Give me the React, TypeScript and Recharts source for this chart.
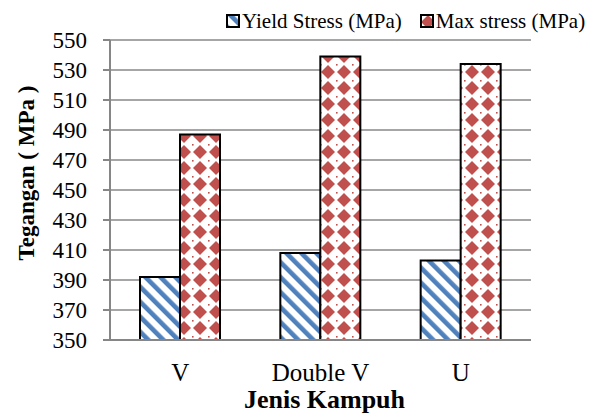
import { BarChart, Bar, XAxis, YAxis, CartesianGrid } from 'recharts';

const categories = ['V', 'Double V', 'U'];
const yieldStress = [392, 408, 403];
const maxStress = [487, 539, 534];
const yTicks = [350, 370, 390, 410, 430, 450, 470, 490, 510, 530, 550];

const data = categories.map((c, i) => ({ name: c, yield: yieldStress[i], max: maxStress[i] }));

const BLUE = '#4f81bd';
const RED = '#c0504d';
const FONT = '"Liberation Serif", "Times New Roman", serif';

function Patterns() {
  return (
    <defs>
      <pattern id="stripes" patternUnits="userSpaceOnUse" width="10.6" height="10.6" patternTransform="rotate(-45)">
        <rect width="10.6" height="10.6" fill="#fff" />
        <rect x="0" y="0" width="4.6" height="10.6" fill={BLUE} />
      </pattern>
      <pattern id="diamonds" patternUnits="userSpaceOnUse" width="16" height="16">
        <rect width="16" height="16" fill="#fff" />
        <path d="M8 1 L15 8 L8 15 L1 8 Z" fill={RED} />
        <rect x="0" y="0" width="1.6" height="1.6" fill={RED} />
      </pattern>
    </defs>
  );
}

function LegendBox() {
  const items = [
    { label: 'Yield Stress (MPa)', fill: 'url(#stripes)' },
    { label: 'Max stress (MPa)', fill: 'url(#diamonds)' },
  ];
  return (
    <div
      style={{
        position: 'absolute',
        left: 226,
        top: 10,
        display: 'flex',
        fontFamily: FONT,
        fontSize: 21,
        color: '#000',
        lineHeight: '22px',
        whiteSpace: 'nowrap',
      }}
    >
      {items.map((it) => (
        <div key={it.label} style={{ display: 'flex', alignItems: 'center', marginRight: 18 }}>
          <svg width={15} height={15} style={{ marginRight: 1 }}>
            <rect x={1} y={1} width={12} height={12} fill={it.fill} stroke="#000" strokeWidth={2} />
          </svg>
          <span>{it.label}</span>
        </div>
      ))}
    </div>
  );
}

export default function App() {
  return (
    <div style={{ position: 'absolute', left: 0, top: 0, width: 598, height: 414, background: '#fff' }}>
      <BarChart
        width={598}
        height={414}
        data={data}
        margin={{ top: 40, right: 67, left: 0, bottom: 0 }}
        barCategoryGap={30}
        barGap={0}
      >
        <Patterns />
        <CartesianGrid horizontal vertical={false} stroke="#a6a6a6" strokeWidth={2} />
        <XAxis
          dataKey="name"
          axisLine={{ stroke: '#868686', strokeWidth: 2 }}
          tickLine={false}
          tickSize={0}
          tickMargin={23}
          tick={{ fill: '#000', fontSize: 25, fontFamily: FONT }}
          height={74}
          label={{
            content: ({ viewBox }: any) => (
              <text
                x={viewBox.x + viewBox.width / 2 + 4}
                y={viewBox.y + 68}
                textAnchor="middle"
                fontFamily={FONT}
                fontWeight="bold"
                fontSize={26}
                fill="#000"
              >
                Jenis Kampuh
              </text>
            ),
          }}
        />
        <XAxis
          xAxisId="top"
          dataKey="name"
          orientation="top"
          height={0}
          tick={false}
          tickLine={false}
          axisLine={{ stroke: '#000', strokeWidth: 2 }}
        />
        <YAxis
          domain={[350, 550]}
          ticks={yTicks}
          interval={0}
          width={110}
          axisLine={{ stroke: '#868686', strokeWidth: 2 }}
          tickLine={{ stroke: '#868686', strokeWidth: 2 }}
          tickSize={7}
          tickMargin={16}
          tick={{ fill: '#000', fontSize: 23, fontFamily: FONT }}
          label={{
            content: ({ viewBox }: any) => {
              const cx = 26;
              const cy = viewBox.y + viewBox.height / 2 - 17;
              return (
                <text
                  x={cx}
                  y={cy}
                  transform={`rotate(-90 ${cx} ${cy})`}
                  textAnchor="middle"
                  dominantBaseline="central"
                  fontFamily={FONT}
                  fontWeight="bold"
                  fontSize={23}
                  fill="#000"
                >
                  Tegangan ( MPa )
                </text>
              );
            },
          }}
        />
        <YAxis
          yAxisId="right"
          orientation="right"
          domain={[350, 550]}
          width={0}
          tick={false}
          tickLine={false}
          axisLine={{ stroke: '#000', strokeWidth: 2 }}
        />
        <Bar dataKey="yield" name="Yield Stress (MPa)" fill="url(#stripes)" stroke="#000" strokeWidth={2} isAnimationActive={false} />
        <Bar dataKey="max" name="Max stress (MPa)" fill="url(#diamonds)" stroke="#000" strokeWidth={2} isAnimationActive={false} />
      </BarChart>
      <LegendBox />
    </div>
  );
}
